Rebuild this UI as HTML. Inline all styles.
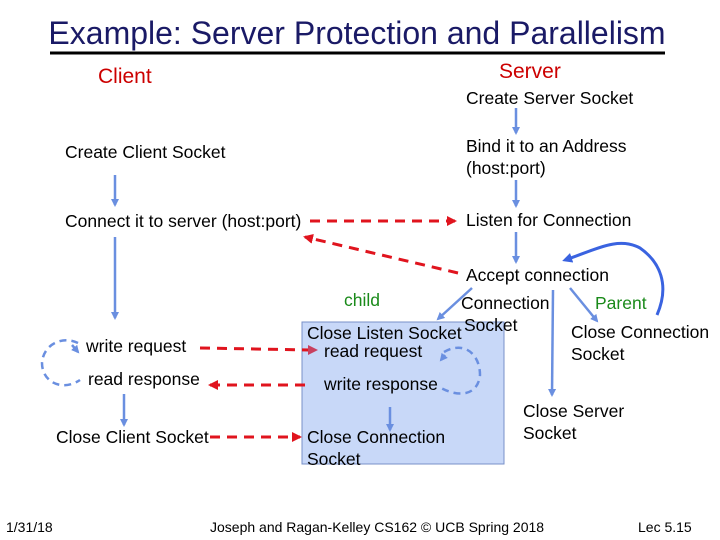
<!DOCTYPE html>
<html><head><meta charset="utf-8"><style>
html,body{margin:0;padding:0;background:#fff}
svg{display:block}
text{font-family:"Liberation Sans",Arial,sans-serif;fill:#000}
</style></head><body>
<svg width="720" height="540" viewBox="0 0 720 540" xmlns="http://www.w3.org/2000/svg">
<defs>
<marker id="bl" markerWidth="8" markerHeight="8" refX="6" refY="4" orient="auto" markerUnits="userSpaceOnUse"><path d="M0,0 L8,4 L0,8 z" fill="#6a8fe0"/></marker>
<marker id="bd" markerWidth="10" markerHeight="10" refX="7" refY="5" orient="auto" markerUnits="userSpaceOnUse"><path d="M0,0 L10,5 L0,10 z" fill="#3a63e0"/></marker>
<marker id="rd" markerWidth="10" markerHeight="10" refX="8" refY="5" orient="auto" markerUnits="userSpaceOnUse"><path d="M0,0 L10,5 L0,10 z" fill="#e0141e"/></marker>
</defs>
<text x="357" y="44" font-size="32" text-anchor="middle" style="fill:#1a1a66">Example: Server Protection and Parallelism</text>
<line x1="50" y1="53" x2="665" y2="53" stroke="#000" stroke-width="3"/>
<text x="98" y="83" font-size="21" style="fill:#cc0000">Client</text>
<text x="499" y="78" font-size="21" style="fill:#cc0000">Server</text>
<rect x="302" y="322" width="202" height="142" fill="#c8d8f8" stroke="#7890c8" stroke-width="1"/>
<g font-size="17.5">
<text x="466" y="104">Create Server Socket</text>
<text x="466" y="152">Bind it to an Address</text>
<text x="466" y="174">(host:port)</text>
<text x="65" y="158">Create Client Socket</text>
<text x="65" y="227">Connect it to server (host:port)</text>
<text x="466" y="226">Listen for Connection</text>
<text x="466" y="281">Accept connection</text>
<text x="461" y="309">Connection</text>
<text x="464" y="331">Socket</text>
<text x="571" y="338">Close Connection</text>
<text x="571" y="360">Socket</text>
<text x="307" y="339">Close Listen Socket</text>
<text x="324" y="357">read request</text>
<text x="324" y="390">write response</text>
<text x="307" y="443">Close Connection</text>
<text x="307" y="465">Socket</text>
<text x="523" y="417">Close Server</text>
<text x="523" y="439">Socket</text>
<text x="86" y="352">write request</text>
<text x="88" y="385">read response</text>
<text x="56" y="443">Close Client Socket</text>
<text x="344" y="306" style="fill:#1a8a1a">child</text>
<text x="595" y="309" style="fill:#1a8a1a">Parent</text>
</g>
<g font-size="14">
<text x="6" y="532">1/31/18</text>
<text x="210" y="532">Joseph and Ragan-Kelley CS162 © UCB Spring 2018</text>
<text x="638" y="532">Lec 5.15</text>
</g>
<g stroke="#6a8fe0" stroke-width="2.5" fill="none">
<line x1="516" y1="108" x2="516" y2="133" marker-end="url(#bl)"/>
<line x1="516" y1="180" x2="516" y2="206" marker-end="url(#bl)"/>
<line x1="516" y1="232" x2="516" y2="262" marker-end="url(#bl)"/>
<line x1="115" y1="175" x2="115" y2="205" marker-end="url(#bl)"/>
<line x1="115" y1="237" x2="115" y2="318" marker-end="url(#bl)"/>
<line x1="124" y1="394" x2="124" y2="425" marker-end="url(#bl)"/>
<line x1="390" y1="407" x2="390" y2="430" marker-end="url(#bl)"/>
<line x1="472" y1="288" x2="438" y2="319" marker-end="url(#bl)"/>
<line x1="553" y1="290" x2="552" y2="395" marker-end="url(#bl)"/>
<line x1="570" y1="288" x2="597" y2="321" marker-end="url(#bl)"/>
<path d="M78,343 C62,335 43,345 42,363 C42,382 62,392 80,380" stroke-dasharray="7,5"/>
<path d="M72,345 L78,352" marker-end="url(#bl)"/>
<path d="M444,352 C465,340 480,355 480,375 C478,395 460,398 441,388" stroke-dasharray="7,5"/>
<path d="M445,355 L441,360" marker-end="url(#bl)"/>
</g>
<path d="M657,315 C670,285 660,262 640,248 C618,236 595,250 565,260" stroke="#3a63e0" stroke-width="3" fill="none" marker-end="url(#bd)"/>
<g stroke="#e0141e" stroke-width="3" fill="none" stroke-dasharray="10,7">
<line x1="310" y1="221" x2="455" y2="221" marker-end="url(#rd)"/>
<path d="M458,273 L305,237" marker-end="url(#rd)"/>
<line x1="200" y1="348" x2="310" y2="350"/>
<line x1="305" y1="385" x2="210" y2="385" marker-end="url(#rd)"/>
<line x1="210" y1="437" x2="300" y2="437" marker-end="url(#rd)"/>
</g>
<path d="M308,345 L318,350 L308,355 z" fill="#c84060"/>
</svg>
</body></html>
